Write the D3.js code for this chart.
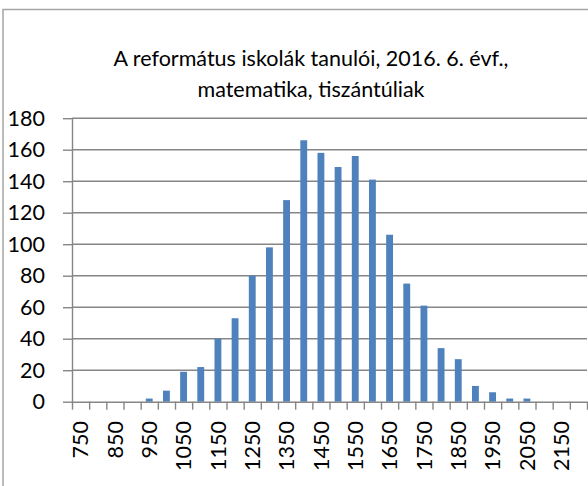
<!DOCTYPE html>
<html>
<head>
<meta charset="utf-8">
<script src="https://cdn.jsdelivr.net/npm/d3@7"></script>
<style>
  body { margin: 0; background: #fff; }
  svg { display: block; }
</style>
</head>
<body>
<div id="chart"></div>
<script>
const titleLines = ["A református iskolák tanulói, 2016. 6. évf.,", "matematika, tiszántúliak"];
const categories = [750, 800, 850, 900, 950, 1000, 1050, 1100, 1150, 1200, 1250, 1300, 1350, 1400, 1450,
  1500, 1550, 1600, 1650, 1700, 1750, 1800, 1850, 1900, 1950, 2000, 2050, 2100, 2150, 2200];
const counts = [0, 0, 0, 0, 2, 7, 19, 22, 40, 53, 80, 98, 128, 166, 158,
  149, 156, 141, 106, 75, 61, 34, 27, 10, 6, 2, 2, 0, 0, 0];
const xTickLabels = [750, 850, 950, 1050, 1150, 1250, 1350, 1450, 1550, 1650, 1750, 1850, 1950, 2050, 2150];
const yTicks = [0, 20, 40, 60, 80, 100, 120, 140, 160, 180];

const width = 588, height = 486;
const plot = { left: 72, right: 587, top: 118.2, bottom: 401.7 };
const gridColor = "#868686";
const barColor = "#4f81bd";
const font = "Lato, 'Open Sans', sans-serif";

const svg = d3.select("#chart").append("svg")
  .attr("width", width)
  .attr("height", height)
  .style("font-family", font);

svg.append("rect")
  .attr("width", width).attr("height", height)
  .attr("fill", "#fff");

// chart frame
svg.append("rect")
  .attr("x", 3).attr("y", 9.5)
  .attr("width", 700).attr("height", 600)
  .attr("fill", "none")
  .attr("stroke", "#a5a5a5")
  .attr("stroke-width", 1.5);

const x = d3.scaleBand()
  .domain(categories)
  .range([plot.left, plot.right])
  .paddingInner(0.6)
  .paddingOuter(0.3);

const xEdge = d3.scaleLinear()
  .domain([0, categories.length])
  .range([plot.left, plot.right]);

const y = d3.scaleLinear()
  .domain([0, 180])
  .range([plot.bottom, plot.top]);

// gridlines
svg.append("g")
  .selectAll("line")
  .data(yTicks.slice(1))
  .enter().append("line")
    .attr("x1", plot.left).attr("x2", plot.right)
    .attr("y1", d => y(d)).attr("y2", d => y(d))
    .attr("stroke", gridColor)
    .attr("stroke-width", 1.4);

// bars
svg.append("g")
  .selectAll("rect")
  .data(categories)
  .enter().append("rect")
    .attr("x", (d, i) => x(d))
    .attr("width", x.bandwidth())
    .attr("y", (d, i) => y(counts[i]))
    .attr("height", (d, i) => y(0) - y(counts[i]))
    .attr("fill", barColor);

// y axis
const yAxis = svg.append("g")
  .attr("transform", `translate(${plot.left},0)`)
  .call(d3.axisLeft(y).tickValues(yTicks).tickSize(9).tickSizeOuter(0).tickPadding(18));
yAxis.select(".domain").attr("stroke", gridColor).attr("stroke-width", 1.4);
yAxis.selectAll(".tick line").attr("stroke", gridColor).attr("stroke-width", 1.4);
yAxis.selectAll("text")
  .attr("fill", "#000")
  .style("font-size", "21.5px")
  .style("font-family", font);

// x axis ticks at category edges
const xAxis = svg.append("g")
  .attr("transform", `translate(0,${plot.bottom})`)
  .call(d3.axisBottom(xEdge).tickValues(d3.range(categories.length + 1)).tickSize(8).tickSizeOuter(0).tickFormat(""));
xAxis.select(".domain").attr("stroke", gridColor).attr("stroke-width", 1.4);
xAxis.selectAll(".tick line").attr("stroke", gridColor).attr("stroke-width", 1.4);

// x labels, rotated
svg.append("g")
  .selectAll("text")
  .data(xTickLabels)
  .enter().append("text")
    .attr("transform", d => `translate(${x(d) + x.bandwidth() / 2},421) rotate(-90)`)
    .attr("text-anchor", "end")
    .attr("dy", "0.36em")
    .attr("fill", "#000")
    .style("font-size", "21.5px")
    .text(d => d);

// title
svg.append("g")
  .attr("text-anchor", "middle")
  .selectAll("text")
  .data(titleLines)
  .enter().append("text")
    .attr("x", 311)
    .attr("y", (d, i) => 66 + i * 31)
    .attr("fill", "#000")
    .style("font-size", "21.5px")
    .text(d => d);
</script>
</body>
</html>
